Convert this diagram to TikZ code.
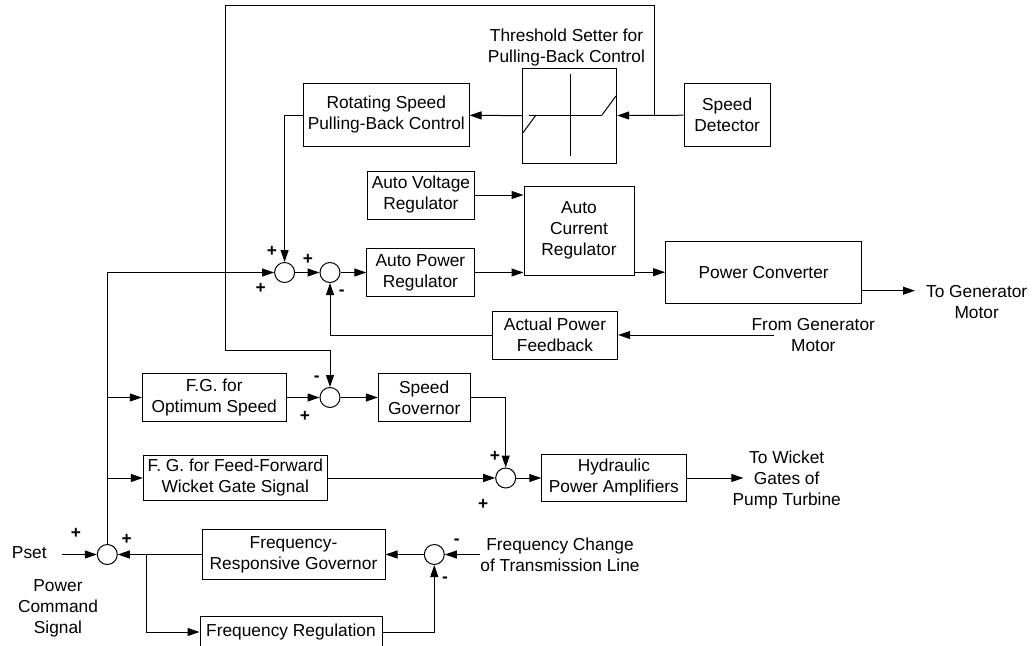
\documentclass[tikz,border=0pt]{standalone}
\usepackage{fontspec}
\setmainfont{Liberation Sans}
\usetikzlibrary{arrows.meta}
\begin{document}
\begin{tikzpicture}[x=0.75pt,y=-0.75pt,
  every node/.style={font=\fontsize{13}{15.75}\selectfont},
  blk/.style={draw,line width=0.75pt,align=center,inner sep=1pt},
  sum/.style={draw,circle,line width=0.75pt,minimum size=15pt,inner sep=0pt},
  lbl/.style={align=center,inner sep=0pt},
  sgn/.style={inner sep=0pt,font=\fontsize{13}{15.75}\selectfont\bfseries},
  sig/.style={line width=0.75pt,-{Triangle[length=9pt,width=6pt]}},
  wire/.style={line width=0.75pt}]
\useasboundingbox (0,0) rectangle (1036,646);

% blocks
\node[blk,minimum width=124.1pt,minimum height=47pt] (rot) at (386.3,115) {Rotating Speed\\Pulling-Back Control};
\node[blk,minimum width=70.5pt,minimum height=71.25pt] (thr) at (569.7,115.8) {};
\node[blk,minimum width=64.7pt,minimum height=47pt] (sd) at (727.2,115) {Speed\\Detector};
\node[blk,minimum width=80.1pt,minimum height=36pt] (avr) at (420.9,195) {Auto Voltage\\Regulator};
\node[blk,minimum width=82.5pt,minimum height=66.75pt] (acr) at (579,230.5) {Auto\\Current\\Regulator};
\node[blk,minimum width=80.4pt,minimum height=36pt] (apr) at (420.4,272.5) {Auto Power\\Regulator};
\node[blk,minimum width=147pt,minimum height=46.7pt] (pc) at (763.7,272.2) {Power Converter};
\node[blk,minimum width=94pt,minimum height=36pt] (apf) at (555,335) {Actual Power\\Feedback};
\node[blk,minimum width=107.8pt,minimum height=35.8pt] (fgo) at (214.2,397.5) {F.G. for\\Optimum Speed};
\node[blk,minimum width=68.8pt,minimum height=35.8pt] (sg) at (424.2,397.5) {Speed\\Governor};
\node[blk,minimum width=138pt,minimum height=34.3pt] (ff) at (235.3,478) {F. G. for Feed-Forward\\Wicket Gate Signal};
\node[blk,minimum width=108.2pt,minimum height=35.8pt] (hpa) at (613.9,478) {Hydraulic\\Power Amplifiers};
\node[blk,minimum width=137.25pt,minimum height=37pt] (frg) at (293.5,554.5) {Frequency-\\Responsive Governor};
\node[blk,minimum width=136.5pt,minimum height=24pt] (fr) at (291,632) {Frequency Regulation};

% threshold characteristic
\draw[wire] (570,74) -- (570,155.7);
\draw[wire] (529,115) -- (602,115);
\draw[wire] (523,132.7) -- (536,115);
\draw[wire] (602,115) -- (616,96);
\node[lbl] (thrt) at (566.5,47.5) {Threshold Setter for\\Pulling-Back Control};

% summing junctions
\node[sum] (s1) at (284.6,272.5) {};
\node[sum] (s2) at (330,272.5) {};
\node[sum] (s3) at (330,397.5) {};
\node[sum] (s4) at (505.7,478) {};
\node[sum] (s0) at (107.3,554.5) {};
\node[sum] (s5) at (434.3,554.5) {};

% free texts
\node[lbl] (pset) at (29.3,552.7) {Pset};
\node[lbl] (pcs) at (58,608) {Power\\Command\\Signal};
\node[lbl] (tgm) at (976.7,301.7) {To Generator\\Motor};
\node[lbl] (fgm) at (813.3,335) {From Generator\\Motor};
\node[lbl] (twg) at (786.7,480) {To Wicket\\Gates of\\Pump Turbine};
\node[lbl] (fct) at (560,554.3) {Frequency Change\\of Transmission Line};

% signs
\node[sgn] at (272,251.7) {+};
\node[sgn] at (260.7,288.3) {+};
\node[sgn] at (307.9,259.3) {+};
\node[sgn] at (341.8,292.7) {-};
\node[sgn] at (316.7,379) {-};
\node[sgn] at (305,416.7) {+};
\node[sgn] at (495,456.7) {+};
\node[sgn] at (483.3,504) {+};
\node[sgn] at (76,533.3) {+};
\node[sgn] at (126.7,539.3) {+};
\node[sgn] at (456.7,541.7) {-};
\node[sgn] at (445,580) {-};

% auxiliary points
\coordinate (pin) at (62,554.5);
\coordinate (tap) at (654.6,115);
\coordinate (ftop) at (225,5.3);
\coordinate (fbend) at (225,350);
\coordinate (tg) at (915,290.7);
\coordinate (fg) at (774,335);
\coordinate (tw) at (743.3,478);
\coordinate (br) at (146.7,554.5);
\coordinate (fc) at (480,554.5);

% connectors
\draw[sig] (pin) -- (s0);
\draw[sig] (s0) -- (s0 |- s1) -- (s1);
\draw[sig] (s0 |- fgo) -- (fgo);
\draw[sig] (s0 |- ff) -- (ff);
\draw[sig] (sd) -- (thr);
\draw[sig] (thr) -- (rot);
\draw[sig] (tap) |- (ftop) -- (fbend) -| (s3);
\draw[sig] (rot) -| (s1);
\draw[sig] (s1) -- (s2);
\draw[sig] (s2) -- (apr);
\draw[sig] (apr) -- (apr -| acr.west);
\draw[sig] (avr) -- (avr -| acr.west);
\draw[sig] (acr.east |- pc) -- (pc);
\draw[sig] (pc.east |- tg) -- (tg);
\draw[sig] (fg) -- (apf);
\draw[sig] (apf) -| (s2);
\draw[sig] (fgo) -- (s3);
\draw[sig] (s3) -- (sg);
\draw[sig] (sg) -| (s4);
\draw[sig] (ff) -- (s4);
\draw[sig] (s4) -- (hpa);
\draw[sig] (hpa) -- (tw);
\draw[sig] (frg) -- (s0);
\draw[sig] (br) |- (fr);
\draw[sig] (s5) -- (frg);
\draw[sig] (fc) -- (s5);
\draw[sig] (fr) -| (s5);
\end{tikzpicture}
\end{document}
